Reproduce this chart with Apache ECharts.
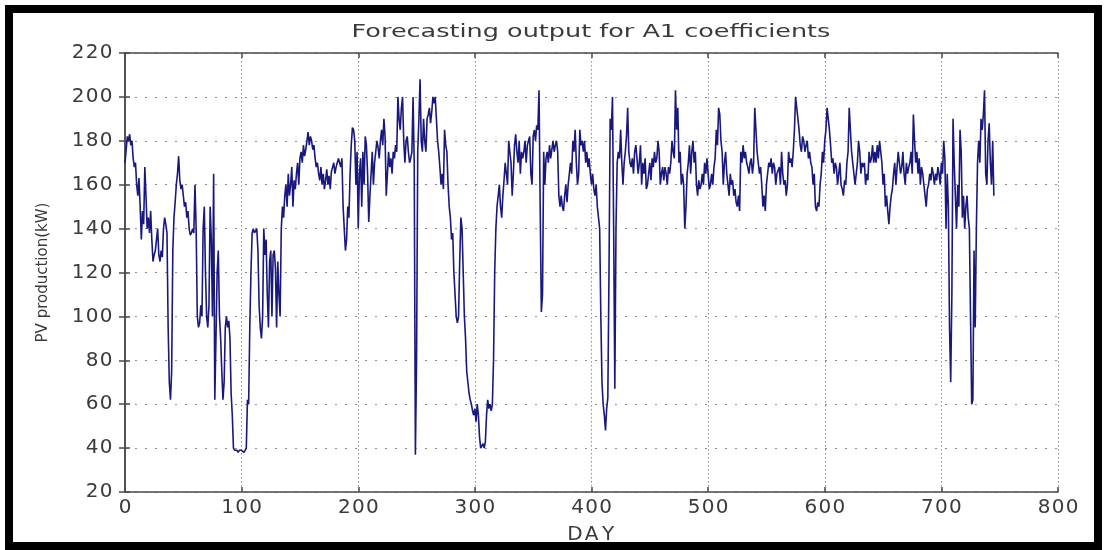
<!DOCTYPE html>
<html>
<head>
<meta charset="utf-8">
<script src="https://cdn.jsdelivr.net/npm/echarts@6/dist/echarts.min.js"></script>
<style>
  html, body { margin: 0; padding: 0; background: #ffffff; }
  #chart { width: 1107px; height: 550px; }
</style>
</head>
<body>
<div id="chart"></div>
<script>
// Labels
const chartTitle = 'Forecasting output for A1 coefficients';
const xAxisName = 'DAY';
const yAxisName = 'PV production(kW)';

// Axis ranges and tick steps
const xTicks = [0, 100, 200, 300, 400, 500, 600, 700, 800];
const yTicks = [20, 40, 60, 80, 100, 120, 140, 160, 180, 200, 220];

// Daily forecast PV production (kW), day 0 onwards
const pvProduction = [
  170, 176, 182, 180, 183, 178, 180, 172, 168, 170, 160, 155, 163, 150, 135, 148, 142, 168, 155, 140,
  145, 138, 148, 135, 125, 128, 130, 135, 140, 128, 125, 130, 127, 140, 145, 142, 138, 95, 70, 62,
  75, 130, 145, 152, 160, 165, 173, 162, 158, 160, 155, 150, 152, 145, 148, 140, 137, 138, 140, 138,
  160, 140, 100, 95, 97, 105, 100, 140, 150, 120, 100, 95, 105, 150, 135, 100, 165, 62, 90, 120,
  130, 100, 90, 75, 62, 70, 95, 100, 95, 98, 90, 65, 55, 40, 39, 39, 39, 38, 39, 39,
  39, 39, 38, 39, 40, 62, 60, 95, 120, 138, 140, 138, 139, 140, 130, 105, 95, 90, 100, 140,
  128, 135, 110, 95, 125, 130, 100, 128, 130, 122, 95, 125, 110, 100, 140, 150, 145, 155, 160, 150,
  165, 155, 160, 168, 150, 162, 158, 165, 170, 160, 172, 175, 170, 178, 173, 176, 180, 184, 178, 182,
  180, 176, 178, 172, 168, 170, 165, 162, 168, 160, 165, 158, 162, 167, 160, 164, 158, 166, 168, 170,
  165, 168, 170, 172, 170, 168, 172, 150, 140, 130, 135, 150, 145, 165, 178, 186, 185, 180, 160, 175,
  140, 165, 172, 150, 175, 160, 182, 178, 165, 143, 155, 165, 175, 160, 170, 175, 180, 177, 172, 180,
  185, 178, 190, 182, 155, 165, 175, 168, 172, 165, 175, 172, 178, 175, 200, 190, 185, 195, 200, 180,
  170, 180, 182, 175, 170, 172, 175, 200, 170, 37, 80, 175, 190, 208, 180, 175, 190, 180, 175, 190,
  192, 195, 188, 193, 200, 197, 200, 190, 180, 175, 168, 160, 165, 158, 185, 178, 175, 160, 150, 145,
  135, 138, 120, 110, 100, 97, 100, 125, 145, 140, 120, 100, 90, 75, 70, 65, 62, 60, 57, 55,
  58, 52, 60, 55, 45, 40, 40, 42, 40, 43, 55, 62, 58, 60, 57, 60, 80, 120, 140, 150,
  155, 160, 150, 145, 155, 162, 170, 165, 160, 180, 175, 170, 155, 165, 178, 183, 175, 170, 180, 165,
  175, 172, 175, 180, 170, 178, 180, 182, 165, 160, 182, 185, 180, 187, 185, 203, 150, 102, 110, 175,
  160, 172, 175, 170, 178, 172, 176, 180, 175, 178, 180, 175, 155, 150, 155, 150, 148, 155, 160, 152,
  160, 165, 170, 165, 180, 175, 185, 170, 160, 165, 185, 178, 180, 175, 180, 170, 175, 168, 172, 165,
  160, 165, 158, 155, 160, 150, 145, 140, 100, 70, 60, 55, 48, 58, 63, 120, 190, 185, 200, 140,
  67, 140, 170, 175, 172, 185, 170, 160, 170, 175, 182, 195, 175, 170, 168, 172, 165, 175, 178, 172,
  165, 170, 178, 160, 170, 165, 172, 158, 160, 165, 170, 162, 172, 168, 175, 170, 172, 180, 175, 160,
  165, 168, 162, 168, 165, 160, 168, 165, 170, 180, 175, 172, 203, 185, 195, 170, 175, 160, 165, 160,
  140, 150, 165, 170, 178, 165, 175, 180, 170, 175, 160, 155, 162, 158, 160, 165, 160, 170, 165, 172,
  165, 158, 160, 165, 160, 168, 172, 185, 178, 195, 192, 180, 175, 160, 170, 175, 165, 160, 155, 165,
  160, 162, 155, 158, 152, 150, 155, 148, 175, 170, 178, 172, 175, 170, 168, 165, 170, 172, 165, 170,
  195, 185, 175, 170, 165, 168, 160, 150, 155, 148, 160, 165, 170, 168, 172, 165, 170, 168, 160, 165,
  165, 168, 160, 175, 165, 160, 162, 155, 160, 175, 170, 172, 168, 175, 185, 200, 195, 190, 185, 178,
  175, 182, 180, 175, 178, 180, 172, 175, 170, 168, 160, 165, 150, 148, 152, 150, 160, 165, 175, 170,
  180, 185, 195, 190, 185, 178, 170, 172, 165, 170, 168, 160, 165, 170, 160, 158, 155, 162, 160, 170,
  175, 195, 185, 175, 170, 165, 160, 165, 170, 180, 175, 165, 170, 168, 170, 160, 165, 162, 175, 170,
  172, 178, 170, 175, 170, 178, 172, 180, 175, 170, 160, 165, 150, 155, 148, 142, 150, 155, 158, 165,
  170, 160, 168, 175, 170, 165, 168, 175, 165, 160, 170, 165, 168, 170, 175, 165, 192, 180, 170, 175,
  165, 172, 160, 168, 165, 160, 155, 150, 158, 160, 165, 162, 168, 165, 160, 165, 162, 168, 165, 160,
  170, 165, 180, 172, 140, 165, 150, 95, 70, 110, 190, 170, 155, 140, 160, 150, 185, 175, 145, 155,
  140, 150, 155, 145, 140, 100, 60, 62, 130, 95, 140, 170, 180, 170, 190, 185, 192, 203, 165, 160,
  180, 188, 170, 160, 180, 155
];

const seriesData = pvProduction.map((v, day) => [day, v]);

const xMin = xTicks[0], xMax = xTicks[xTicks.length - 1], xStep = xTicks[1] - xTicks[0];
const yMin = yTicks[0], yMax = yTicks[yTicks.length - 1], yStep = yTicks[1] - yTicks[0];

const textColor = '#3a3a3a';
const frameColor = '#4a4a4a';

// Evenly sized glyph cells give the wide tick labels and the x-axis name
function spaced(str) {
  return String(str).split('').map(ch => '{c|' + ch + '}').join('');
}
const tickRich = {
  c: { width: 14, align: 'center', fontFamily: 'DejaVu Sans', fontSize: 20, color: textColor }
};
const nameRich = {
  c: { width: 16.5, align: 'center', fontFamily: 'DejaVu Sans', fontSize: 20, color: textColor }
};

const chart = echarts.init(document.getElementById('chart'), null, { renderer: 'canvas' });

chart.setOption({
  backgroundColor: '#ffffff',
  animation: false,
  grid: { left: 125, right: 49, top: 53, bottom: 58, containLabel: false },
  xAxis: [
    {
      type: 'value', min: xMin, max: xMax, interval: xStep,
      name: spaced(xAxisName), nameLocation: 'middle', nameGap: 33,
      nameTextStyle: { rich: nameRich },
      axisLine: { show: true, lineStyle: { color: frameColor, width: 1.5 } },
      axisTick: { show: true, inside: true, length: 5, lineStyle: { color: frameColor, width: 1.5 } },
      axisLabel: { margin: 6, formatter: v => spaced(v), rich: tickRich },
      splitLine: { show: true, lineStyle: { color: '#8c8c8c', width: 1, type: [1.5, 2.5] } }
    },
    {
      type: 'value', min: xMin, max: xMax, interval: xStep, position: 'top',
      axisLine: { show: true, lineStyle: { color: frameColor, width: 1.5 } },
      axisTick: { show: true, inside: true, length: 5, lineStyle: { color: frameColor, width: 1.5 } },
      axisLabel: { show: false },
      splitLine: { show: false }
    }
  ],
  yAxis: [
    {
      type: 'value', min: yMin, max: yMax, interval: yStep,
      name: yAxisName, nameLocation: 'middle', nameGap: 74, nameRotate: 90,
      nameTextStyle: { fontFamily: 'DejaVu Sans', fontSize: 15, color: textColor },
      axisLine: { show: true, lineStyle: { color: frameColor, width: 1.5 } },
      axisTick: { show: true, inside: true, length: 5, lineStyle: { color: frameColor, width: 1.5 } },
      axisLabel: { margin: 12, formatter: v => spaced(v), rich: tickRich },
      splitLine: { show: true, lineStyle: { color: '#8c8c8c', width: 1, type: [2, 8] } }
    },
    {
      type: 'value', min: yMin, max: yMax, interval: yStep, position: 'right',
      axisLine: { show: true, lineStyle: { color: frameColor, width: 1.5 } },
      axisTick: { show: true, inside: true, length: 6, lineStyle: { color: frameColor, width: 1.5 } },
      axisLabel: { show: false },
      splitLine: { show: false }
    }
  ],
  graphic: [
    {
      // chart title, drawn with a horizontal stretch
      type: 'text',
      x: 591,
      y: 33,
      scaleX: 1.5,
      silent: true,
      style: {
        text: chartTitle,
        fontFamily: 'DejaVu Sans',
        fontSize: 17,
        fill: textColor,
        textAlign: 'center',
        textVerticalAlign: 'middle'
      }
    },
    {
      // outer frame
      type: 'rect',
      shape: { x: 9, y: 9, width: 1089, height: 537 },
      style: { fill: 'none', stroke: '#000000', lineWidth: 8 },
      silent: true,
      z: 100
    }
  ],
  series: [
    {
      type: 'line',
      data: seriesData,
      xAxisIndex: 0,
      yAxisIndex: 0,
      showSymbol: false,
      symbol: 'none',
      lineStyle: { color: '#18187e', width: 1.6 },
      z: 3
    }
  ]
});
</script>
</body>
</html>
